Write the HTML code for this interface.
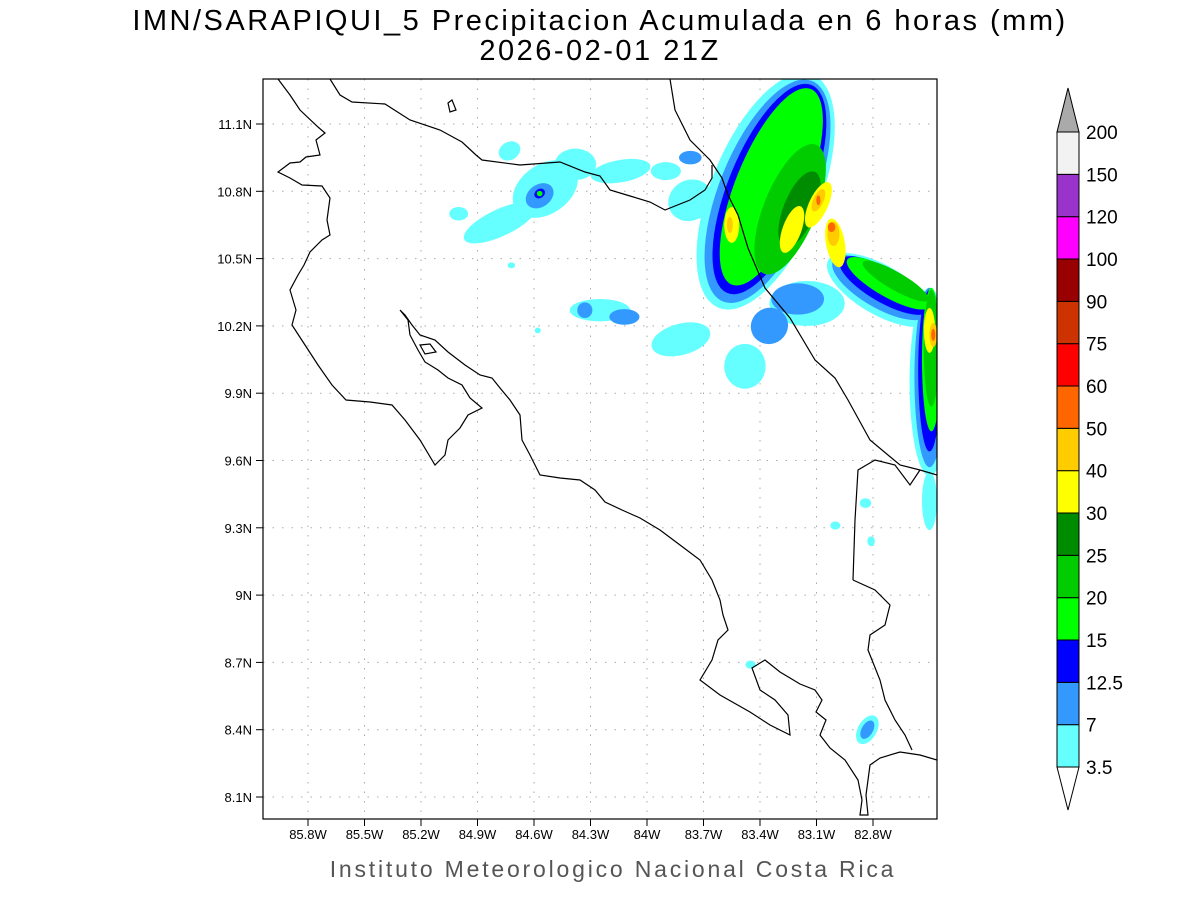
<!DOCTYPE html>
<html><head><meta charset="utf-8"><style>
body{margin:0;background:#fff;}
svg{display:block;font-family:"Liberation Sans",sans-serif;}
</style></head><body>
<svg id="chart" width="1200" height="900">
<text x="600" y="30" text-anchor="middle" font-size="29" letter-spacing="2.5" fill="#000">IMN/SARAPIQUI_5 Precipitacion Acumulada en 6 horas (mm)</text>
<text x="600" y="60" text-anchor="middle" font-size="29" letter-spacing="2.5" fill="#000">2026-02-01 21Z</text>
<text x="613" y="877" text-anchor="middle" font-size="23" letter-spacing="2.8" fill="#555">Instituto Meteorologico Nacional Costa Rica</text>
<defs><clipPath id="pc"><rect x="263" y="79" width="674" height="740"/></clipPath></defs>
<g id="grid"></g>
<g id="precip" clip-path="url(#pc)"></g>
<g clip-path="url(#pc)" fill="none" stroke="#000" stroke-width="1.2">
<path d="M278,79 L290,95 300,110 318,127 325,133 316,140 320,155 306,157 300,162 290,163 278,172 290,178 302,185 322,186 330,198 327,220 330,235 322,240 310,252 304,265 298,275 290,290 296,310 292,325 305,345 318,365 332,385 346,400 370,402 392,405 405,420 420,440 435,465 445,455 448,440 460,428 468,415 482,408 470,398 462,385 448,378 438,370 425,362 418,350 410,335 408,320 400,310 405,315 412,325 420,335 435,340 448,352 465,365 480,375 492,378 500,388 510,400 520,415 522,440 530,455 540,475 560,478 580,480 595,490 605,502 622,510 640,518 660,530 680,545 700,560 712,580 720,600 723,615 728,630 718,640 712,660 700,680 720,695 750,712 770,725 790,735 788,715 775,700 760,690 752,668 765,660 780,672 800,684 815,690 822,700 816,712 826,720 820,735 830,748 845,760 858,780 862,800 860,815 868,815 866,795 870,765 880,758 900,752 920,755 937,760"/>
<path d="M330,79 L340,95 352,102 385,104 410,120 440,130 462,142 476,155 482,160 520,165 560,162 585,172 600,176 610,190 630,196 650,202 665,210 690,200 705,190 712,178 712,165"/>
<path d="M670,79 L675,110 690,140 710,160 722,178 728,195 738,215 748,248 765,288 790,318 815,360 835,378 848,400 870,440 900,465 920,470 937,475"/>
<path d="M853,580 L855,520 858,470 875,460 895,465 910,485 920,470"/>
<path d="M853,580 L875,590 890,605 885,625 870,635 868,650 880,680 885,700 895,720 905,735 912,750"/>
<path d="M420,345 L430,344 436,352 425,354 Z"/>
<path d="M448,103 L452,100 456,110 450,112 Z"/>
</g>
<rect x="263" y="79" width="674" height="740" fill="none" stroke="#000" stroke-width="1.2"/>
<g id="axes"></g>
<g id="cbar"></g>
</svg>
<script>
const lonTicks=[-85.8,-85.5,-85.2,-84.9,-84.6,-84.3,-84.0,-83.7,-83.4,-83.1,-82.8];
const latTicks=[8.1,8.4,8.7,9.0,9.3,9.6,9.9,10.2,10.5,10.8,11.1];
const levels=[3.5,7,12.5,15,20,25,30,40,50,60,75,90,100,120,150,200];
const levelColors=['#66ffff','#3399ff','#0000ff','#00ff00','#00cc00','#008c00','#ffff00','#ffcc00','#ff6600','#ff0000','#cc3300','#990000','#ff00ff','#9933cc','#f2f2f2'];
// precip blobs: [lon, lat, lonRadius, latRadius, angle, value]
const blobs=[
[-84.78,10.66,0.21,0.06,-25,5],[-84.54,10.81,0.19,0.11,-35,5],[-84.38,10.92,0.11,0.07,0,5],[-84.73,10.98,0.06,0.04,-30,5],
[-85.00,10.70,0.05,0.03,0,5],[-84.57,10.78,0.08,0.05,-35,9],[-84.57,10.79,0.03,0.02,-35,14],[-84.57,10.79,0.015,0.012,0,17],
[-84.14,10.89,0.16,0.05,-10,5],[-83.90,10.89,0.08,0.04,0,5],[-83.77,10.95,0.06,0.03,0,9],[-83.77,10.76,0.12,0.09,-30,5],
[-84.25,10.27,0.16,0.05,0,5],[-84.12,10.24,0.08,0.035,0,9],[-84.33,10.27,0.04,0.035,0,9],[-83.82,10.14,0.16,0.07,-15,5],
[-83.48,10.02,0.11,0.10,0,5],[-83.35,10.20,0.10,0.08,-30,9],
[-83.37,10.80,0.29,0.56,22,5],[-83.15,10.30,0.20,0.10,0,5],[-82.76,10.36,0.32,0.11,30,5],[-82.50,9.95,0.106,0.42,0,5],
[-83.36,10.80,0.255,0.53,22,9],[-83.20,10.32,0.14,0.07,0,9],[-82.76,10.37,0.29,0.09,30,9],[-82.50,9.97,0.08,0.40,0,9],
[-83.35,10.81,0.22,0.50,22,14],[-82.74,10.38,0.27,0.075,30,14],[-82.50,10.00,0.06,0.36,0,14],
[-83.34,10.82,0.19,0.47,22,17],[-82.72,10.39,0.25,0.06,30,17],[-82.49,10.05,0.05,0.32,0,17],
[-83.24,10.72,0.14,0.31,22,22],[-82.68,10.40,0.20,0.04,30,22],[-82.49,10.10,0.04,0.26,0,22],
[-83.19,10.72,0.085,0.18,22,27],
[-83.09,10.74,0.05,0.11,25,35],[-83.23,10.63,0.05,0.11,20,35],[-83.00,10.57,0.05,0.11,-10,35],[-83.55,10.65,0.04,0.08,0,35],[-82.50,10.18,0.03,0.10,0,35],
[-83.09,10.76,0.027,0.054,25,45],[-83.01,10.61,0.032,0.054,0,45],[-82.48,10.16,0.02,0.054,0,45],[-83.56,10.65,0.016,0.036,0,45],
[-83.09,10.76,0.011,0.022,0,55],[-83.02,10.64,0.02,0.022,0,55],[-82.48,10.16,0.011,0.027,0,55],
[-82.50,9.42,0.04,0.13,0,5],[-83.00,9.31,0.027,0.018,0,5],[-82.81,9.24,0.02,0.022,0,5],[-82.84,9.41,0.03,0.022,0,5],
[-83.45,8.69,0.027,0.018,0,5],[-82.83,8.40,0.05,0.07,30,5],[-82.83,8.40,0.03,0.045,30,9],
[-84.72,10.47,0.02,0.013,0,5],[-84.58,10.18,0.016,0.013,0,5]];
const X=lon=>308+(lon+85.8)/0.3*56.5;
const Y=lat=>124+(11.1-lat)/0.3*67.3;
const NS='http://www.w3.org/2000/svg';
function mk(tag,attrs,parent){const e=document.createElementNS(NS,tag);for(const k in attrs)e.setAttribute(k,attrs[k]);parent.appendChild(e);return e;}
const grid=document.getElementById('grid'),axes=document.getElementById('axes');
lonTicks.forEach(l=>{
  const x=X(l);
  const g=mk('line',{x1:x,x2:x,y1:79,y2:819,stroke:'#aaa','stroke-dasharray':'1.5 8'},grid);
  
  
  const t=mk('line',{x1:x,x2:x,y1:819,y2:826,stroke:'#000'},axes);
  
  
  const tx=mk('text',{x:x,y:839,'text-anchor':'middle','font-size':13},axes);
  tx.textContent=(Math.abs(l)%1===0?Math.abs(l).toFixed(0):Math.abs(l).toFixed(1))+'W';
  
  
});
latTicks.forEach(l=>{
  const y=Y(l);
  const g=mk('line',{x1:263,x2:937,y1:y,y2:y,stroke:'#aaa','stroke-dasharray':'1.5 8'},grid);
  
  
  const t=mk('line',{x1:256,x2:263,y1:y,y2:y,stroke:'#000'},axes);
  
  
  const tx=mk('text',{x:252,y:y+5,'text-anchor':'end','font-size':13},axes);
  tx.textContent=(l%1===0?l.toFixed(0):l.toFixed(1))+'N';
  
  
});
function colorFor(v){let i=0;for(let k=0;k<levels.length-1;k++){if(v>=levels[k])i=k;}return levelColors[i];}
const pr=document.getElementById('precip');
blobs.slice().sort((a,b)=>a[5]-b[5]).forEach(b=>{
  const cx=X(b[0]),cy=Y(b[1]),rx=b[2]/0.3*56.5,ry=b[3]/0.3*67.3;
  const e=mk('ellipse',{cx:cx,cy:cy,rx:rx,ry:ry,fill:colorFor(b[5]),transform:`rotate(${b[4]} ${cx} ${cy})`},pr);
  
  
});
const cb=document.getElementById('cbar');
const cbTop=132,cbBot=767,step=(cbBot-cbTop)/(levels.length-1);
levelColors.forEach((c,i)=>{
  const y1=cbBot-(i+1)*step;
  const r=mk('rect',{x:1057,y:y1,width:22,height:step,fill:c,stroke:'#000','stroke-width':1},cb);
  
  
});
levels.forEach((v,i)=>{
  const y=cbBot-i*step;
  const t=mk('text',{x:1086,y:y+7,'font-size':19},cb);
  t.textContent=String(v);
  
  
});
const tt=mk('path',{d:`M1057,${cbTop} L1068,88 L1079,${cbTop} Z`,fill:'#aaa',stroke:'#000'},cb);


const bt=mk('path',{d:`M1057,${cbBot} L1068,810 L1079,${cbBot} Z`,fill:'#fff',stroke:'#000'},cb);


</script>
</body></html>
